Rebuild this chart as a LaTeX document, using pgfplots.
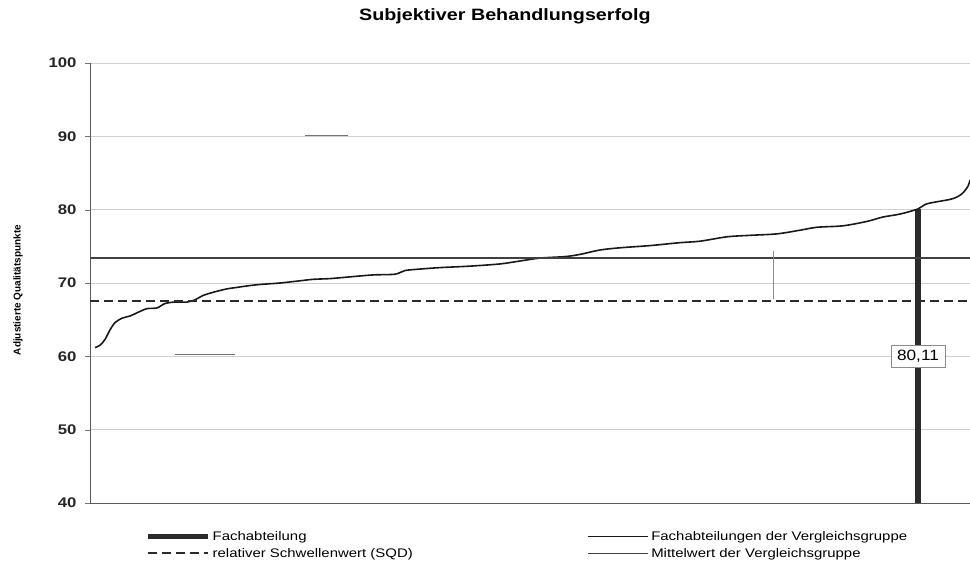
\documentclass[border=0pt]{standalone}
\usepackage{fontspec}
\setmainfont{Liberation Sans}
\usepackage{pgfplots}
\pgfplotsset{compat=1.18}
\definecolor{bardark}{HTML}{2B2B2B}
\definecolor{gridgray}{HTML}{D0D0D0}
\newcommand{\wide}[1]{\scalebox{1.2}[1]{#1}}
\begin{document}
\begin{tikzpicture}
\path[use as bounding box] (-90bp,-59bp) rectangle (880bp,503bp);
\begin{axis}[
  at={(0,0)}, anchor=south west,
  scale only axis, width=880bp, height=440bp,
  xmin=0, xmax=880, ymin=40, ymax=100,
  xtick=\empty,
  ytick={40,50,...,100},
  yticklabels={\wide{40},\wide{50},\wide{60},\wide{70},\wide{80},\wide{90},\wide{100}},
  ymajorgrids, grid style={gridgray, line width=0.8pt},
  axis x line=bottom, axis y line=left,
  axis line style={-, draw=black!65, line width=1pt},
  tick align=outside, major tick length=5bp,
  ytick style={draw=black!55},
  /pgf/number format/assume math mode=true,
  yticklabel style={font=\bfseries\fontsize{14}{14}\selectfont, xshift=-5bp, text=black!85},
  title={\scalebox{1.2}[1]{Subjektiver Behandlungserfolg}},
  title style={font=\bfseries\fontsize{16.5}{17}\selectfont, at={(axis description cs:0.4716,1.093)}, anchor=center},
  ylabel={Adjustierte Qualitätspunkte},
  every axis y label/.style={at={(axis description cs:-0.0818,0.484)}, rotate=90, anchor=center, font=\bfseries\fontsize{10}{11}\selectfont},
  legend columns=2,
  legend cell align=left,
  legend style={draw=none, fill=none, at={(axis description cs:0.0625,-0.058)}, anchor=north west,
    font=\fontsize{12.5}{13}\selectfont, inner sep=0pt, row sep=1.5bp,
    nodes={inner sep=2.5bp}},
  clip=true,
]
% Fachabteilung bar
\addplot[ycomb, draw=bardark, line width=6bp, mark=none,
  legend image code/.code={\draw[draw=bardark, line width=5bp] (0bp,0bp) -- (60bp,0bp);}]
  coordinates {(828,80.11)};
\addlegendentry{\makebox[372bp][l]{\wide{Fachabteilung}}}
% comparison group curve
\addplot[black!90, line width=1.6bp, smooth, mark=none,
  legend image code/.code={\draw[black!90, line width=1.6bp] (0bp,0bp) -- (60bp,0bp);}]
  coordinates {
(5,61.2) (10,61.5) (15,62.3) (20,63.6) (25,64.6) (32,65.2) (40,65.5) (48,66.0)
(57,66.5) (67,66.6) (75,67.2) (85,67.4) (97,67.4) (105,67.7) (113,68.3) (125,68.8)
(137,69.2) (147,69.4) (157,69.6) (170,69.8) (190,70.0) (210,70.3) (223,70.5) (240,70.6)
(257,70.8) (283,71.1) (305,71.2) (315,71.7) (330,71.9) (350,72.1) (380,72.3) (410,72.6)
(430,73.0) (450,73.4) (475,73.6) (490,73.9) (510,74.5) (530,74.8) (560,75.1) (590,75.5)
(610,75.7) (637,76.3) (660,76.5) (687,76.7) (710,77.2) (727,77.6) (753,77.8) (777,78.4)
(793,79.0) (810,79.4) (828,80.1) (837,80.8) (860,81.4) (868,81.8) (873,82.3) (878,83.2) (880,84.0)
  };
\addlegendentry{\wide{Fachabteilungen der Vergleichsgruppe}}
% threshold
\addplot[bardark, line width=2.2bp, dash pattern=on 9bp off 5bp, mark=none,
  legend image code/.code={\draw[bardark, line width=2bp, dash pattern=on 9bp off 5bp] (0bp,0bp) -- (60bp,0bp);}]
  coordinates {(0,67.5) (880,67.5)};
\addlegendentry{\wide{relativer Schwellenwert (SQD)}}
% mean
\addplot[black!75, line width=1.5bp, mark=none,
  legend image code/.code={\draw[black!75, line width=1.5bp] (0bp,0bp) -- (60bp,0bp);}]
  coordinates {(0,73.4) (880,73.4)};
\addlegendentry{\wide{Mittelwert der Vergleichsgruppe}}
% small scan marks
\addplot[black!55, line width=1bp, mark=none, forget plot] coordinates {(215,90.1) (258,90.1)};
\addplot[black!55, line width=1bp, mark=none, forget plot] coordinates {(85,60.3) (145,60.3)};
\addplot[black!45, line width=0.6bp, mark=none, forget plot] coordinates {(683,74.3) (683,67.8)};
\node[draw=black!45, fill=white, line width=0.6bp, inner xsep=6bp, inner ysep=5bp,
  font=\fontsize{15}{15}\selectfont] at (axis cs:828,60) {\scalebox{1.15}[1]{80,11}};
\end{axis}
\end{tikzpicture}
\end{document}
